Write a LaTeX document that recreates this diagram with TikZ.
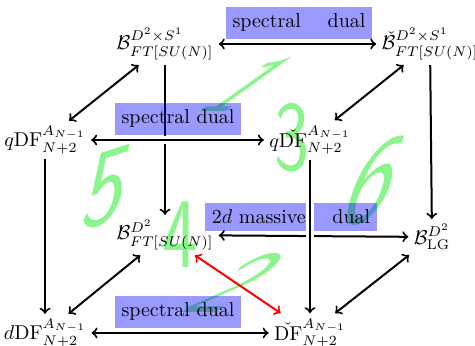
\documentclass[tikz,border=0pt]{standalone}
\usepackage{amsmath,amssymb}
\definecolor{numgreen}{RGB}{0,230,0}
\begin{document}
\begin{tikzpicture}[x=0.5pt,y=-0.5pt,
  vtx/.style={inner sep=2.5pt},
  arr/.style={line width=1pt,<->},
  darr/.style={line width=1pt,->},
  halo/.style={preaction={draw=white,line width=4pt,-}},
  boxlab/.style={fill=blue,fill opacity=0.4,text opacity=1,inner xsep=3.5pt,inner ysep=3.5pt},
  num/.style={text=numgreen,text opacity=0.45,inner sep=0pt,font=\fontsize{50}{55}\selectfont\sffamily}
]
\useasboundingbox (0,0) rectangle (475,346);

% green face numbers
\node[num,xslant=1.4,font=\fontsize{40}{46}\selectfont\sffamily] (n1) at (250,85) {1};
\node[num,xslant=1.3,font=\fontsize{44}{50}\selectfont\sffamily] (n2) at (238,283) {2};
\node[num,xscale=0.75] (n3) at (292,138) {3};
\node[num,xscale=0.75] (n4) at (180,235) {4};
\node[num,xscale=0.72,xslant=0.3,yslant=0.25,font=\fontsize{58}{62}\selectfont\sffamily] (n5) at (108,188) {5};
\node[num,xscale=0.72,xslant=0.5,yslant=0.3,font=\fontsize{62}{66}\selectfont\sffamily] (n6) at (374,182) {6};

% vertices
\node[vtx] (BT)  at (165,44)  {$\mathcal{B}^{D^2\times S^1}_{FT[SU(N)]}$};
\node[vtx] (BTR) at (430,44)  {$\check{\mathcal{B}}^{D^2\times S^1}_{FT[SU(N)]}$};
\node[vtx] (FTL) at (45,140)  {$q\mathrm{DF}^{A_{N-1}}_{N+2}$};
\node[vtx] (FTR) at (310,140) {$q\check{\mathrm{DF}}^{A_{N-1}}_{N+2}$};
\node[vtx] (BBL) at (165,235) {$\mathcal{B}^{D^2}_{FT[SU(N)]}$};
\node[vtx] (BBR) at (432,237) {$\mathcal{B}^{D^2}_{\mathrm{LG}}$};
\node[vtx] (FBL) at (45,333)  {$d\mathrm{DF}^{A_{N-1}}_{N+2}$};
\node[vtx] (FBR) at (310,333) {$\check{\mathrm{DF}}^{A_{N-1}}_{N+2}$};

% back edges
\draw[arr] (BT) -- (BTR);
\draw[darr] (BT) -- (BBL);
\draw[darr] (BTR) -- (BBR);
\draw[arr] (BBL) -- (BBR);
\draw[arr] (FTL) -- (BT);
\draw[arr] (FTR) -- (BTR);
\draw[arr] (FBL) -- (BBL);
\draw[arr] (FBR) -- (BBR);
\draw[arr,red] (BBL) -- (FBR);

% labels
\node[boxlab] (L1) at (299,23)  {spectral \quad dual};
\node[boxlab] (L2) at (178,119) {spectral dual};
\node[boxlab] (L3) at (291,217) {$2d$ massive \quad dual};
\node[boxlab] (L4) at (178,312) {spectral dual};

% front edges
\draw[arr,halo] (FTL) -- (FTR);
\draw[darr,halo] (FTR) -- (FBR);
\draw[darr] (FTL) -- (FBL);
\draw[arr] (FBL) -- (FBR);
\end{tikzpicture}
\end{document}
